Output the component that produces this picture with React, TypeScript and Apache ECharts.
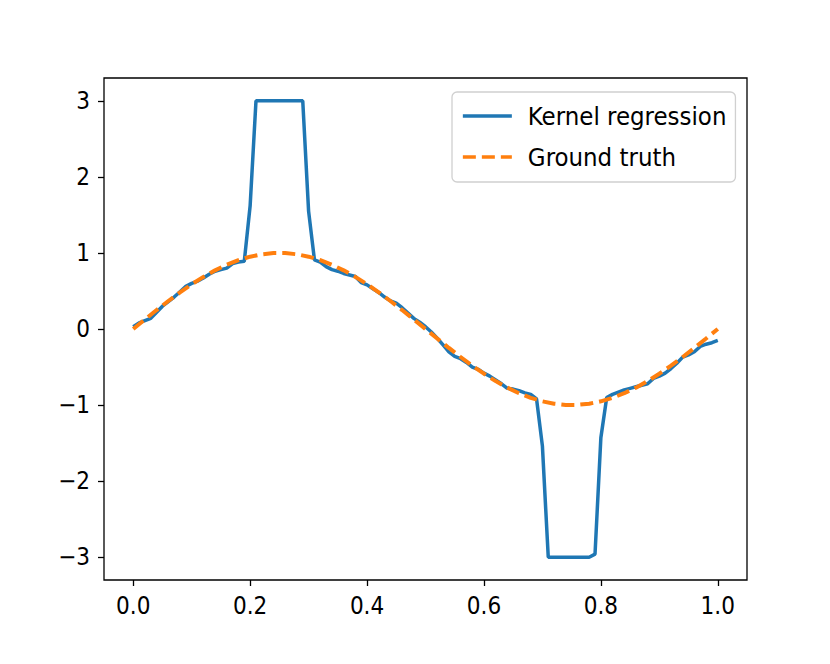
import React, { useEffect, useRef } from "react";
import * as echarts from "echarts";

const xTicks = [0, 0.2, 0.4, 0.6, 0.8, 1.0];
const yTicks = [-3, -2, -1, 0, 1, 2, 3];

const kernelX = [
  0.0, 0.01, 0.02, 0.03, 0.04, 0.05, 0.06, 0.07, 0.08, 0.09,
  0.1, 0.11, 0.12, 0.13, 0.14, 0.15, 0.16, 0.17, 0.18, 0.19,
  0.2, 0.21, 0.22, 0.23, 0.24, 0.25, 0.26, 0.27, 0.28, 0.29,
  0.3, 0.31, 0.32, 0.33, 0.34, 0.35, 0.36, 0.37, 0.38, 0.39,
  0.4, 0.41, 0.42, 0.43, 0.44, 0.45, 0.46, 0.47, 0.48, 0.49,
  0.5, 0.51, 0.52, 0.53, 0.54, 0.55, 0.56, 0.57, 0.58, 0.59,
  0.6, 0.61, 0.62, 0.63, 0.64, 0.65, 0.66, 0.67, 0.68, 0.69,
  0.7, 0.71, 0.72, 0.73, 0.74, 0.75, 0.76, 0.77, 0.78, 0.79,
  0.8, 0.81, 0.82, 0.83, 0.84, 0.85, 0.86, 0.87, 0.88, 0.89,
  0.9, 0.91, 0.92, 0.93, 0.94, 0.95, 0.96, 0.97, 0.98, 0.99,
  1.0,
];
const kernelY = [
  0.03, 0.08, 0.11, 0.14, 0.22, 0.3, 0.36, 0.42, 0.49, 0.56,
  0.6, 0.63, 0.67, 0.72, 0.76, 0.78, 0.8, 0.86, 0.88, 0.89,
  1.62, 3, 3, 3, 3, 3, 3, 3, 3, 3,
  1.55, 0.91, 0.88, 0.82, 0.78, 0.76, 0.73, 0.71, 0.69, 0.61,
  0.58, 0.53, 0.48, 0.42, 0.37, 0.34, 0.28, 0.21, 0.14, 0.09,
  0.03, -0.04, -0.12, -0.21, -0.3, -0.36, -0.39, -0.44, -0.5, -0.53,
  -0.58, -0.62, -0.67, -0.72, -0.78, -0.79, -0.81, -0.84, -0.86, -0.92,
  -1.54, -3, -3, -3, -3, -3, -3, -3, -3, -2.96,
  -1.43, -0.9, -0.86, -0.83, -0.8, -0.78, -0.76, -0.74, -0.72, -0.65,
  -0.62, -0.58, -0.52, -0.45, -0.37, -0.34, -0.3, -0.23, -0.2, -0.18,
  -0.15,
];

const truthX = [
  0.0, 0.02, 0.04, 0.06, 0.08, 0.1, 0.12, 0.14, 0.16, 0.18,
  0.2, 0.22, 0.24, 0.26, 0.28, 0.3, 0.32, 0.34, 0.36, 0.38,
  0.4, 0.42, 0.44, 0.46, 0.48, 0.5, 0.52, 0.54, 0.56, 0.58,
  0.6, 0.62, 0.64, 0.66, 0.68, 0.7, 0.72, 0.74, 0.76, 0.78,
  0.8, 0.82, 0.84, 0.86, 0.88, 0.9, 0.92, 0.94, 0.96, 0.98,
  1.0,
];
const truthY = [
  0.0, 0.125, 0.249, 0.368, 0.482, 0.588, 0.685, 0.771, 0.844, 0.905,
  0.951, 0.982, 0.998, 0.998, 0.982, 0.951, 0.905, 0.844, 0.771, 0.685,
  0.588, 0.482, 0.368, 0.249, 0.125, 0.0, -0.125, -0.249, -0.368, -0.482,
  -0.588, -0.685, -0.771, -0.844, -0.905, -0.951, -0.982, -0.998, -0.998, -0.982,
  -0.951, -0.905, -0.844, -0.771, -0.685, -0.588, -0.482, -0.368, -0.249, -0.125,
  0.0,
];

const seriesNames = ["Kernel regression", "Ground truth"];
const FONT = "'DejaVu Sans Condensed', 'DejaVu Sans', sans-serif";

export default function App() {
  const ref = useRef<HTMLDivElement>(null);
  useEffect(() => {
    if (!ref.current) return;
    const chart = echarts.init(ref.current, null, { renderer: "svg" });
    chart.setOption({
      animation: false,
      backgroundColor: "#ffffff",
      textStyle: { fontFamily: FONT },
      grid: {
        left: 104,
        top: 78,
        width: 643,
        height: 502,
        show: true,
        borderColor: "#000000",
        borderWidth: 1.3,
        backgroundColor: "transparent",
      },
      legend: {
        left: 452,
        top: 92,
        orient: "vertical",
        itemWidth: 49,
        itemHeight: 24,
        itemGap: 15,
        padding: [11, 9, 12, 9],
        backgroundColor: "rgba(255,255,255,0.8)",
        borderColor: "#d0d0d0",
        borderWidth: 1.3,
        borderRadius: 5,
        itemStyle: { opacity: 0 },
        lineStyle: { width: 3.7 },
        textStyle: {
          fontFamily: FONT,
          fontSize: 25.5,
          color: "#000000",
          padding: [0, 0, 0, 11],
        },
        data: seriesNames,
      },
      xAxis: {
        type: "value",
        min: -0.05,
        max: 1.05,
        splitLine: { show: false },
        axisLine: { show: false, onZero: false },
        axisTick: {
          show: true,
          length: 6,
          lineStyle: { color: "#000", width: 1.3 },
          customValues: xTicks,
        },
        axisLabel: {
          customValues: xTicks,
          formatter: (v: number) => v.toFixed(1),
          fontFamily: FONT,
          fontSize: 24,
          color: "#000",
          margin: 14,
        },
      },
      yAxis: {
        type: "value",
        min: -3.3,
        max: 3.3,
        splitLine: { show: false },
        axisLine: { show: false, onZero: false },
        axisTick: {
          show: true,
          length: 6,
          lineStyle: { color: "#000", width: 1.3 },
          customValues: yTicks,
        },
        axisLabel: {
          customValues: yTicks,
          formatter: (v: number) => (v < 0 ? "\u2212" + Math.abs(v) : String(v)),
          fontFamily: FONT,
          fontSize: 24,
          color: "#000",
          margin: 14,
        },
      },
      series: [
        {
          name: seriesNames[0],
          type: "line",
          data: kernelX.map((x, i) => [x, kernelY[i]]),
          showSymbol: false,
          symbol: "none",
          lineStyle: { color: "#1f77b4", width: 3.5 },
          itemStyle: { color: "#1f77b4" },
          z: 2,
        },
        {
          name: seriesNames[1],
          type: "line",
          data: truthX.map((x, i) => [x, truthY[i]]),
          showSymbol: false,
          symbol: "none",
          smooth: false,
          lineStyle: { color: "#ff7f0e", width: 4, type: [13, 6] },
          itemStyle: { color: "#ff7f0e" },
          z: 3,
        },
      ],
    });
    return () => chart.dispose();
  }, []);
  return (
    <div
      ref={ref}
      style={{ position: "absolute", left: 0, top: 0, width: 830, height: 664 }}
    />
  );
}
